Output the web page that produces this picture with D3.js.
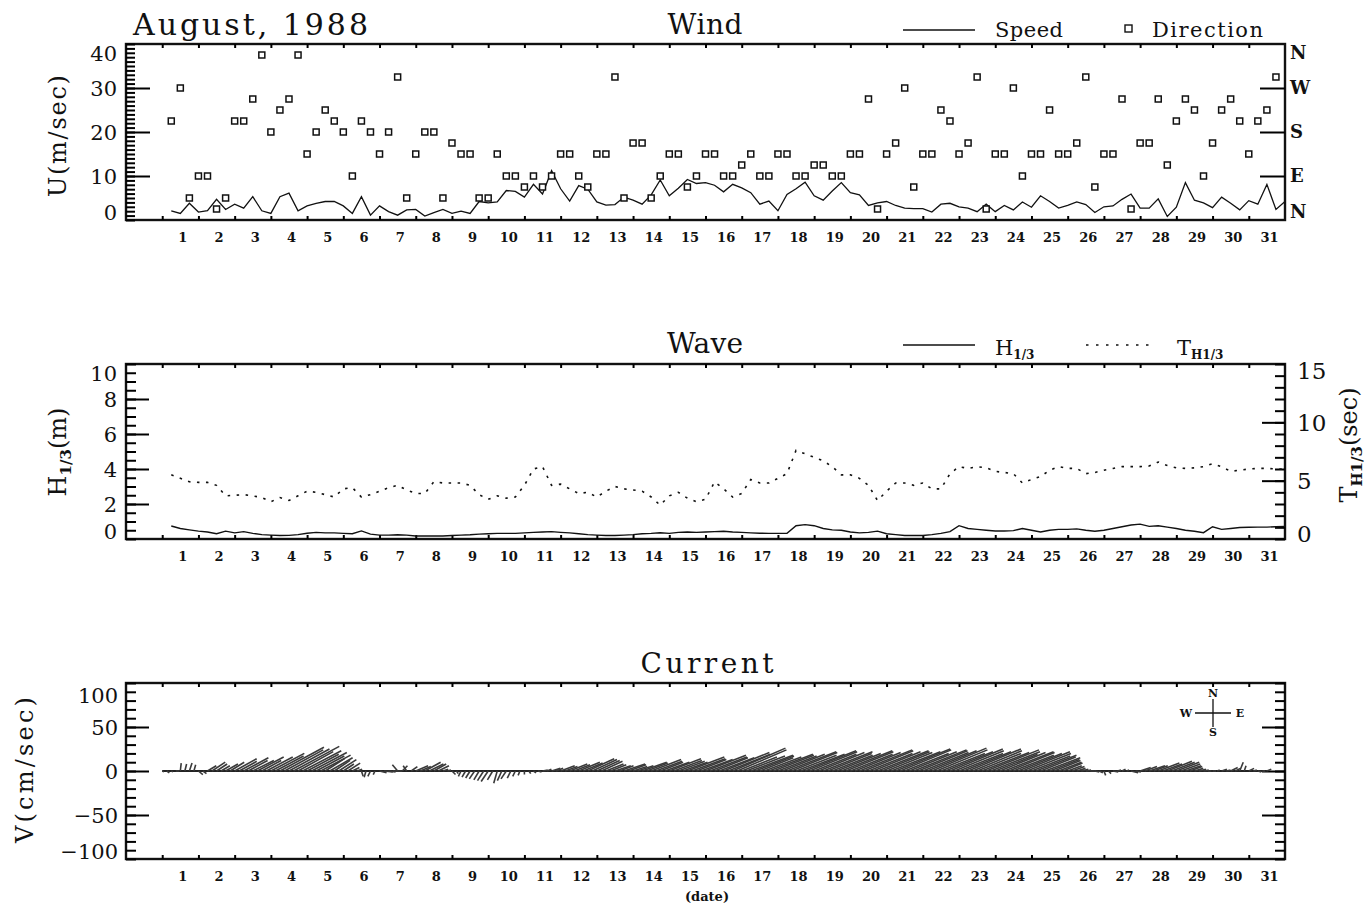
<!DOCTYPE html>
<html>
<head>
<meta charset="utf-8">
<script src="https://cdn.jsdelivr.net/npm/d3@7"></script>
<style>
  body { margin: 0; background: #fff; }
  text { font-family: "DejaVu Serif", serif; fill: #111; }
</style>
</head>
<body>
<svg width="1369" height="905"></svg>
<script>
// ---- data (August 1988) ----
var days = d3.range(1, 32);

// wind speed (m/s), 6-hourly, first sample at day 1.25
var windSpeed = [2.1,1.5,3.8,1.8,2.1,4.7,2.4,3.6,2.7,5.3, 2.1,1.5,5.3,6.1,2.1,3.2,3.8,4.2,4.2,3.2,
  1.5,5.3,1.1,3.2,1.9,1.1,2.3,2.4,0.9,1.7, 2.4,1.5,2.0,1.5,4.2,3.9,4.1,6.7,6.5,5.2,
  8.1,5.9,11.2,7.1,4.3,7.8,7.0,4.1,3.4,3.5, 5.2,4.5,3.6,5.7,9.1,5.5,7.2,9.2,8.3,8.5,
  7.9,6.4,8.1,7.3,6.2,3.6,4.3,2.1,5.8,7.1, 8.6,5.5,4.5,6.6,8.5,6.2,5.7,3.3,3.9,4.2,
  3.3,2.7,2.6,2.6,1.8,3.6,3.8,3.0,2.7,1.9, 3.6,1.9,3.3,2.3,4.1,2.9,5.5,4.2,2.7,3.3,
  4.1,3.5,1.7,3.0,3.2,4.7,5.9,2.7,2.7,4.8, 0.8,2.9,8.5,4.5,3.9,2.8,5.2,3.8,2.3,4.4,
  3.6,8.1,2.4,4.2];

// wind direction (degrees, 16 points)
var windDir = [202.5,270,45,90,90,22.5,45,202.5,202.5,247.5, 337.5,180,225,247.5,337.5,135,180,225,202.5,180,
  90,202.5,180,135,180,292.5,45,135,180,180, 45,157.5,135,135,45,45,135,90,90,67.5,
  90,67.5,90,135,135,90,67.5,135,135,292.5, 45,157.5,157.5,45,90,135,135,67.5,90,135,
  135,90,90,112.5,135,90,90,135,135,90, 90,112.5,112.5,90,90,135,135,247.5,22.5,135,
  157.5,270,67.5,135,135,225,202.5,135,157.5,292.5, 22.5,135,135,270,90,135,135,225,135,135,
  157.5,292.5,67.5,135,135,247.5,22.5,157.5,157.5,247.5, 112.5,202.5,247.5,225,90,157.5,225,247.5,202.5,135,
  202.5,225,292.5];

// significant wave height (m)
var waveH = [0.74,0.6,0.52,0.45,0.4,0.3,0.45,0.35,0.42,0.32, 0.25,0.22,0.2,0.21,0.25,0.33,0.38,0.35,0.35,0.32,
  0.3,0.46,0.28,0.22,0.22,0.24,0.22,0.17,0.17,0.17, 0.17,0.2,0.22,0.24,0.28,0.3,0.32,0.32,0.32,0.35,
  0.38,0.4,0.42,0.38,0.35,0.3,0.25,0.22,0.2,0.2, 0.22,0.25,0.3,0.32,0.36,0.32,0.38,0.4,0.38,0.4,
  0.42,0.44,0.4,0.38,0.35,0.33,0.32,0.32,0.32,0.76, 0.82,0.76,0.6,0.52,0.5,0.4,0.35,0.38,0.45,0.3,
  0.25,0.2,0.2,0.2,0.25,0.32,0.42,0.76,0.6,0.55, 0.5,0.46,0.46,0.48,0.6,0.5,0.4,0.5,0.55,0.55,
  0.58,0.5,0.44,0.5,0.6,0.7,0.8,0.85,0.72,0.76, 0.68,0.6,0.5,0.44,0.36,0.7,0.55,0.6,0.66,0.67,
  0.68,0.68,0.7,0.72];

// significant wave period (sec)
var waveT = [5.5,5.2,4.9,4.85,4.85,4.6,3.7,3.75,3.8,3.7, 3.55,3.2,3.55,3.3,3.7,4.1,4.0,3.8,3.6,4.3,
  4.4,3.6,3.8,4.1,4.4,4.6,4.2,3.9,3.9,4.9, 4.8,4.8,4.8,4.6,3.8,3.4,3.7,3.5,3.6,4.6,
  6.0,6.2,4.6,4.7,4.3,3.9,4.0,3.6,4.1,4.5, 4.3,4.2,4.1,3.6,2.9,3.7,4.0,3.5,3.2,3.4,
  4.9,4.3,3.6,3.9,5.1,4.8,4.8,5.2,5.6,7.6, 7.3,7.0,6.7,6.2,5.5,5.5,5.2,4.6,3.3,4.1,
  4.8,4.8,4.6,4.8,4.3,4.3,5.6,6.2,6.05,6.2, 6.1,5.8,5.7,5.6,4.8,5.1,5.35,5.9,6.2,6.05,
  6.05,5.6,5.7,5.9,6.05,6.2,6.2,6.2,6.25,6.6, 6.3,6.1,6.05,6.1,6.2,6.45,6.2,5.8,5.9,6.0,
  6.05,6.05,6.0,6.0];

// current east component (cm/s), 3-hourly, one line per day from day 1.0
var curU = [
  2,3,2,4,1,2,3,2,
  5,4,10,15,12,10,14,16,
  25,20,28,22,24,30,22,30,
  38,32,50,44,46,52,40,44,
  36,40,32,34,22,26,18,20,
  12,14,8,6,2,-2,-3,-2,
  8,10,8,10,-6,6,-4,7,
  14,12,18,16,14,12,6,4,
  4,2,-3,-4,-5,-6,-6,-7,
  -8,-6,-4,-5,-6,-4,-3,-2,
  0,2,3,4,6,5,10,8,
  16,14,20,18,24,22,30,28,
  26,24,20,18,18,16,24,20,
  16,18,28,24,34,30,26,28,
  36,32,30,28,42,38,34,36,
  46,42,38,40,52,48,60,56,
  40,44,48,44,38,42,50,46,
  44,48,56,52,46,50,58,54,
  48,52,56,50,46,50,58,54,
  48,52,60,56,50,54,58,54,
  52,56,62,58,50,54,60,56,
  52,56,62,58,50,54,60,56,
  50,54,60,56,50,54,60,56,
  48,52,56,52,46,50,54,50,
  44,46,40,40,34,30,26,22,
  16,14,10,8,6,6,5,4,
  2,3,6,4,4,3,8,6,
  12,14,18,16,24,22,28,26,
  26,22,18,14,10,8,6,4,
  4,3,6,5,8,6,4,2,
  6,4,4,3,5];

// current north component (cm/s), same times
var curV = [
  -1,-2,-1,0,9,8,9,7,
  -4,-3,6,10,8,6,8,10,
  14,11,15,12,12,16,12,16,
  20,17,27,24,25,28,22,23,
  19,21,17,18,14,15,12,13,
  8,9,4,2,-6,-7,-6,-4,
  -2,-1,-1,0,7,6,6,5,
  6,5,10,8,8,6,2,1,
  -4,-3,-6,-7,-8,-9,-10,-11,
  -12,-10,-14,-11,-9,-8,-6,-5,
  -4,-3,-2,-1,1,2,3,3,
  6,5,8,7,10,9,14,13,
  12,11,8,7,6,6,8,7,
  5,6,10,9,13,11,10,10,
  14,12,11,10,16,14,13,13,
  18,16,15,15,21,19,26,24,
  16,17,18,17,15,16,19,18,
  17,19,22,21,18,19,23,22,
  19,21,22,20,18,20,23,22,
  19,21,24,23,20,22,23,22,
  21,22,25,24,20,22,24,23,
  21,23,26,24,20,22,25,23,
  20,22,25,23,20,21,24,22,
  19,21,22,21,18,20,22,20,
  17,18,16,15,13,12,10,9,
  6,5,3,2,1,0,-1,-2,
  -5,-3,-1,1,2,1,-2,-1,
  4,5,6,6,9,8,11,10,
  10,8,6,5,3,2,1,0,
  0,1,2,1,4,3,10,6,
  3,1,-1,0,2];

var compass = ["N", "E", "S", "W", "N"];

// ---- layout ----
var svg = d3.select("svg");
var x = d3.scaleLinear().domain([0, 32]).range([126, 1285]);

var windTop = 44, windBot = 220;
var waveTop = 364, waveBot = 539;
var curTop = 683, curBot = 859;

var yWind = d3.scaleLinear().domain([0, 40]).range([windBot, windTop]);
var yDir = d3.scaleLinear().domain([0, 360]).range([windBot, windTop]);
var yH = d3.scaleLinear().domain([0, 10]).range([waveBot, waveTop]);
var yT = d3.scaleLinear().domain([0, 15]).range([waveBot, waveTop]);
var yCur = d3.scaleLinear().domain([-100, 100]).range([curBot, curTop]);
var pxPerCm = (curBot - curTop) / 200;

function tWind(i) { return 1.25 + i / 4; }
function tCur(i) { return 1 + i / 8; }

function frame(top, bot) {
  svg.append("rect")
    .attr("x", x(0)).attr("y", top)
    .attr("width", x(32) - x(0)).attr("height", bot - top)
    .attr("fill", "none").attr("stroke", "#111").attr("stroke-width", 2.4);

  // little day ticks on top and bottom
  svg.append("g").attr("transform", "translate(0," + bot + ")")
    .call(d3.axisBottom(x).tickValues(days).tickSize(-4).tickFormat(""))
    .call(function (g) { g.select(".domain").remove(); })
    .selectAll("line").attr("stroke-width", 2);
  svg.append("g").attr("transform", "translate(0," + top + ")")
    .call(d3.axisTop(x).tickValues(days).tickSize(-4).tickFormat(""))
    .call(function (g) { g.select(".domain").remove(); })
    .selectAll("line").attr("stroke-width", 2);

  svg.append("g").selectAll("text")
    .data(days).enter().append("text")
    .attr("x", function (d) { return x(d + 0.57); })
    .attr("y", bot + 22)
    .attr("text-anchor", "middle")
    .style("font-size", "13px").style("font-weight", "bold")
    .text(function (d) { return d; });
}

function yTicks(scale, side, xpos, vals, len) {
  var ax = side === "left" ? d3.axisLeft(scale) : d3.axisRight(scale);
  svg.append("g").attr("transform", "translate(" + xpos + ",0)")
    .call(ax.tickValues(vals).tickSize(-len).tickFormat(""))
    .call(function (g) { g.select(".domain").remove(); })
    .selectAll("line").attr("stroke-width", 2);
}

function yLabels(scale, side, xpos, vals, fmt, top, bot, size, weight) {
  svg.append("g").selectAll("text")
    .data(vals).enter().append("text")
    .attr("x", xpos)
    .attr("y", function (d) { return Math.max(top + 9, Math.min(bot - 8, scale(d))); })
    .attr("dy", "0.36em")
    .attr("text-anchor", side === "left" ? "end" : "start")
    .style("font-size", size).style("font-weight", weight || "normal")
    .text(fmt);
}

function label(txt, px, py, size, anchor, len) {
  var t = svg.append("text").attr("x", px).attr("y", py)
    .attr("text-anchor", anchor || "start")
    .style("font-size", size).text(txt);
  if (len) t.attr("textLength", len).attr("lengthAdjust", "spacing");
  return t;
}

// ================= Wind =================
frame(windTop, windBot);
yTicks(yWind, "left", x(0), d3.range(0, 41, 1), 9);
yTicks(yWind, "left", x(0), [10, 20, 30], 24);
yLabels(yWind, "left", 117, [0, 10, 20, 30, 40], function (d) { return d; }, windTop, windBot, "21px");
yTicks(yDir, "right", x(32), [90, 180, 270], 25);
yLabels(yDir, "right", 1290, [0, 90, 180, 270, 360], function (d, i) { return compass[i]; }, windTop, windBot, "18px", "bold");

svg.append("path")
  .datum(windSpeed)
  .attr("fill", "none").attr("stroke", "#111").attr("stroke-width", 1.3)
  .attr("d", d3.line()
    .x(function (d, i) { return x(tWind(i)); })
    .y(function (d) { return yWind(d); }));

svg.append("g").selectAll("rect")
  .data(windDir).enter().append("rect")
  .attr("x", function (d, i) { return x(tWind(i)) - 3; })
  .attr("y", function (d) { return yDir(d) - 3; })
  .attr("width", 6).attr("height", 6)
  .attr("fill", "#fff").attr("stroke", "#111").attr("stroke-width", 1.5);

label("August, 1988", 133, 35, "30px", "start", 235);
label("Wind", 705, 34, "28px", "middle", 75);
svg.append("line").attr("x1", 903).attr("x2", 975).attr("y1", 30).attr("y2", 30)
  .attr("stroke", "#111").attr("stroke-width", 1.3);
label("Speed", 995, 37, "21px", "start", 68);
svg.append("rect").attr("x", 1125).attr("y", 25).attr("width", 7).attr("height", 7)
  .attr("fill", "none").attr("stroke", "#111").attr("stroke-width", 1.4);
label("Direction", 1152, 37, "21px", "start", 111);
label("U(m/sec)", 0, 0, "24px", "middle", 122)
  .attr("transform", "translate(66,136) rotate(-90)");

// ================= Wave =================
frame(waveTop, waveBot);
yTicks(yH, "left", x(0), d3.range(0, 10.01, 0.5), 10);
yTicks(yH, "left", x(0), [2, 4, 6, 8], 23);
yLabels(yH, "left", 117, [0, 2, 4, 6, 8, 10], function (d) { return d; }, waveTop, waveBot, "21px");
yTicks(yT, "right", x(32), d3.range(0, 16, 1), 10);
yTicks(yT, "right", x(32), [5, 10], 23);
yLabels(yT, "right", 1297, [0, 5, 10, 15], function (d) { return d; }, waveTop - 2, waveBot + 3, "23px");

svg.append("path")
  .datum(waveH)
  .attr("fill", "none").attr("stroke", "#111").attr("stroke-width", 1.4)
  .attr("d", d3.line()
    .x(function (d, i) { return x(tWind(i)); })
    .y(function (d) { return yH(d); }));

svg.append("path")
  .datum(waveT)
  .attr("fill", "none").attr("stroke", "#111").attr("stroke-width", 1.6)
  .attr("stroke-dasharray", "2.5,6.5")
  .attr("d", d3.line()
    .x(function (d, i) { return x(tWind(i)); })
    .y(function (d) { return yT(d); }));

label("Wave", 705, 353, "28px", "middle", 76);
svg.append("line").attr("x1", 903).attr("x2", 975).attr("y1", 345).attr("y2", 345)
  .attr("stroke", "#111").attr("stroke-width", 1.3);
var hl = label("H", 995, 355, "21px");
hl.append("tspan").attr("dy", 4).style("font-size", "12px").style("font-weight", "bold").text("1/3");
svg.append("line").attr("x1", 1086).attr("x2", 1155).attr("y1", 345).attr("y2", 345)
  .attr("stroke", "#111").attr("stroke-width", 1.5).attr("stroke-dasharray", "2.5,7.5");
var tl = label("T", 1177, 355, "21px");
tl.append("tspan").attr("dy", 4).style("font-size", "12px").style("font-weight", "bold").text("H1/3");

var hy = svg.append("text").attr("transform", "translate(66,452) rotate(-90)")
  .attr("text-anchor", "middle").style("font-size", "24px");
hy.append("tspan").text("H");
hy.append("tspan").attr("dy", 5).style("font-size", "15px").style("font-weight", "bold").text("1/3");
hy.append("tspan").attr("dy", -5).text("(m)");

var ty = svg.append("text").attr("transform", "translate(1357,445) rotate(-90)")
  .attr("text-anchor", "middle").style("font-size", "24px");
ty.append("tspan").text("T");
ty.append("tspan").attr("dy", 5).style("font-size", "15px").style("font-weight", "bold").text("H1/3");
ty.append("tspan").attr("dy", -5).text("(sec)");

// ================= Current =================
frame(curTop, curBot);
yTicks(yCur, "left", x(0), d3.range(-100, 101, 10), 10);
yTicks(yCur, "left", x(0), [-50, 0, 50], 23);
yTicks(yCur, "right", x(32), d3.range(-100, 101, 10), 10);
yTicks(yCur, "right", x(32), [-50, 0, 50], 23);
yLabels(yCur, "left", 118, [-100, -50, 0, 50, 100],
  function (d) { return d < 0 ? "\u2212" + (-d) : d; }, curTop + 3, curBot, "21px");

svg.append("line")
  .attr("x1", x(tCur(0))).attr("x2", x(tCur(curU.length - 1)))
  .attr("y1", yCur(0)).attr("y2", yCur(0))
  .attr("stroke", "#222").attr("stroke-width", 1.8);

// stick plot: each vector starts on the zero line at its time
svg.append("g").selectAll("line")
  .data(curU).enter().append("line")
  .attr("x1", function (d, i) { return x(tCur(i)); })
  .attr("y1", yCur(0))
  .attr("x2", function (d, i) { return x(tCur(i)) + d * pxPerCm; })
  .attr("y2", function (d, i) { return yCur(curV[i]); })
  .attr("stroke", "#3a3a3a").attr("stroke-width", 1.6);

// compass rose
var cx = 1213, cy = 713;
svg.append("line").attr("x1", cx - 18).attr("x2", cx + 18).attr("y1", cy).attr("y2", cy)
  .attr("stroke", "#111").attr("stroke-width", 1.3);
svg.append("line").attr("x1", cx).attr("x2", cx).attr("y1", cy - 14).attr("y2", cy + 14)
  .attr("stroke", "#111").attr("stroke-width", 1.3);
[["N", cx, cy - 16], ["S", cx, cy + 23], ["W", cx - 27, cy + 4], ["E", cx + 27, cy + 4]].forEach(function (c) {
  label(c[0], c[1], c[2], "11px", "middle").style("font-weight", "bold");
});

label("Current", 707, 673, "28px", "middle", 133);
label("(date)", 707, 901, "13px", "middle").style("font-weight", "bold");
label("V(cm/sec)", 0, 0, "24px", "middle", 146)
  .attr("transform", "translate(33,770) rotate(-90)");
</script>
</body>
</html>
